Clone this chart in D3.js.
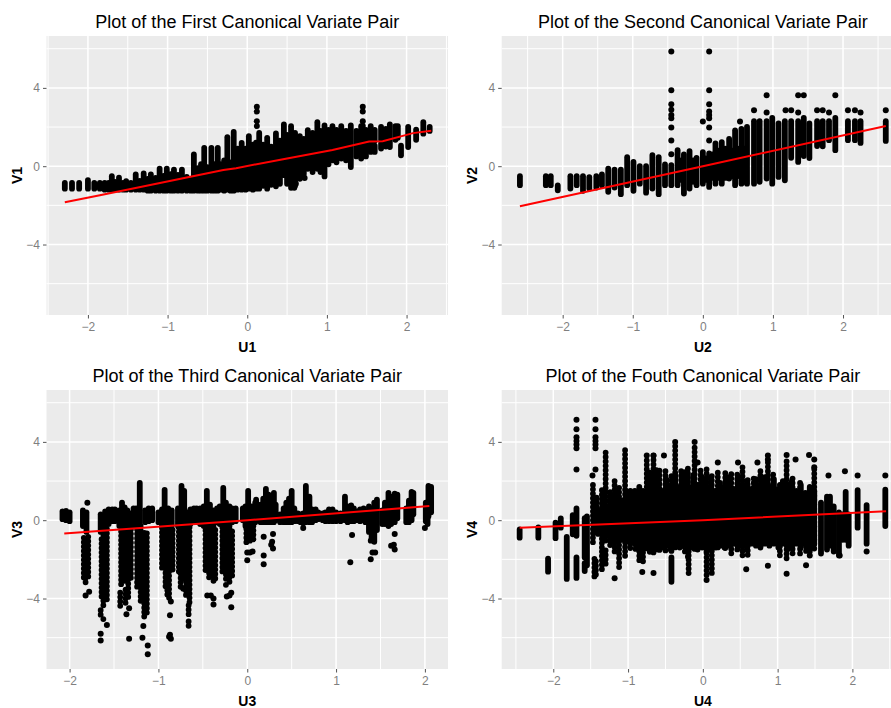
<!DOCTYPE html>
<html>
<head>
<meta charset="utf-8">
<title>Canonical Variate Pairs</title>
<script src="https://cdn.jsdelivr.net/npm/d3@7"></script>
<style>
    html, body { margin: 0; padding: 0; background: #fff; overflow: hidden; }
    svg { display: block; }
    text { font-family: "Liberation Sans", Arial, sans-serif; }
</style>
</head>
<body>
<div id="chart"></div>
<script>
//==================== data ====================//
// stacked points are kept as columns: [u, top v, bottom v]
// strips = tight columns, beads = looser columns where single points still show
const strips1 = [
    [-2.29,-.85,-1.15],[-2.2,-.85,-1.15],[-2.11,-.85,-1.15],[-2,-.71,-1.15],[-1.92,-.85,-1.15],[-1.85,-.85,-1.15],
    [-1.79,-.85,-1.2],[-1.74,-.85,-1.2],[-1.7,-.51,-1.2],[-1.66,-.8,-1.2],[-1.61,-.59,-1.2],[-1.56,-.85,-1.2],
    [-1.52,-.76,-1.2],[-1.46,-.85,-1.2],[-1.4,-.42,-1.2],[-1.35,-.75,-1.2],[-1.3,-.37,-1.2],[-1.25,-.65,-1.25],
    [-1.21,-.42,-1.25],[-1.15,-.6,-1.25],[-1.1,-.13,-1.25],[-1.05,-.5,-1.25],[-1.01,-.13,-1.25],[-.96,-.4,-1.25],
    [-.92,-.17,-1.25],[-.87,-.45,-1.25],[-.82,-.17,-1.25],[-.76,-.55,-1.25],[-.71,-.7,-1.25],[-.67,.6,-1.25],
    [-.62,-.1,-1.25],[-.58,.1,-1.25],[-.54,.94,-1.25],[-.5,-.05,-1.25],[-.45,.94,-1.25],[-.41,.1,-1.25],
    [-.37,.94,-1.25],[-.33,.1,-1.2],[-.29,.3,-1.25],[-.25,1.48,-1.2],[-.21,.2,-1.25],[-.17,1.75,-1.25],
    [-.12,.9,-1.2],[-.07,1.19,-1.2],[-.02,.9,-1.2],[.02,1.53,-1.15],[.07,1.1,-1.2],[.11,1.2,-1.15],
    [.15,1.7,-1.15],[.2,1.1,-1],[.25,1.45,-1.15],[.3,1,-.95],[.36,1.67,-1.03],[.41,1.3,-.9],
    [.46,2.13,-.46],[.5,1.6,-.9],[.55,2.04,-1.1],[.6,1.7,-1],[.66,1.53,-.64],[.71,1.4,-.4],
    [.76,1.84,-.13],[.82,1.7,-.3],[.88,2.25,-.13],[.92,1.8,-.3],[.97,2.08,-.52],[1.02,1.85,.1],
    [1.07,2.04,.3],[1.12,1.85,.2],[1.18,2.04,.39],[1.24,1.8,.3],[1.3,2.08,-.04],[1.37,1.8,.5],
    [1.43,2.04,.39],[1.49,1.85,.5],[1.55,2.04,1.3],[1.55,1.1,.73],[1.6,1.85,1.3],[1.6,1.05,.73],
    [1.68,2.01,1.35],[1.68,1.15,.9],[1.74,1.9,1],[1.79,2.13,.98],[1.86,2.04,1.35],[1.89,2.04,1.45],
    [1.93,1.05,.56],[2.02,2.01,.98],[2.12,1.87,1.35],[2.21,2.25,1.66],[2.29,2.01,1.8]
];
const beads1 = [];
const dots1 = [[.12,3.04],[.12,2.79],[.12,2.3],[.12,2.05],[1.45,3.04],[1.45,2.79],[1.45,2.3],[1.45,2.05],[.59,-1.1],[.61,-.9],[.72,-.6]];
const fitU1 = [-2.29,-1.85,-1.31,-.76,-.3,-.14,.45,1.07,1.53,1.7,2.08,2.31];
const fitV1 = [-1.84,-1.48,-1.04,-.58,-.19,-.1,.36,.83,1.26,1.28,1.69,1.81];

const strips2 = [
    [-2.61,-.51,-.97],[-2.24,-.51,-.97],[-2.17,-.51,-.97],[-2.07,-.98,-1.23],[-1.89,-.51,-1.14],[-1.8,-.51,-.97],
    [-1.71,-.51,-1.26],[-1.62,-.56,-1.14],[-1.52,-.51,-1.09],[-1.44,-.42,-.97],[-1.35,-.12,-1.31],[-1.26,-.17,-1.09],
    [-1.17,-.17,-1.43],[-1.08,.46,-.97],[-.99,.22,-1.26],[-.9,0,-.89],[-.81,0,-1.35],[-.72,.57,-1.14],
    [-.63,.46,-1.43],[-.54,.09,-.97],[-.45,.05,-.97],[-.36,.82,-.97],[-.27,.6,-1.4],[-.19,.77,-1.14],
    [-.09,.43,-.97],[0,.72,-.89],[.09,.65,-1.06],[.18,1.16,-.89],[.27,1.23,-.89],[.375,1.4,-.63],
    [.46,1.83,-.97],[.55,1.91,-.89],[.63,2.01,-.89],[.73,2.3,-.89],[.81,2.3,-.8],[.91,2.3,-.63],
    [.99,2.47,-.89],[1.08,2.18,-.55],[1.17,2.3,-.72],[1.26,2.3,.43],[1.36,2.3,.22],[1.44,2.47,.52],
    [1.52,2.18,.42],[1.63,2.3,1.03],[1.71,2.3,1.02],[1.8,2.3,1.33],[1.89,2.47,.82],[2.07,2.3,1.33],
    [2.17,2.3,1.33],[2.25,2.3,1.19],[2.61,2.3,1.29],
    [-.31,.3,-.7],[-.14,.3,-.8],[.04,.4,-.7],[.14,.6,-.6],[.22,.8,-.6],[.32,.9,-.6],[.42,.8,-.5],[.5,.9,-.5],[.59,.9,-.8]
];
const beads2 = [];
const dots2 = [
    [-.45,5.86],[-.45,3.88],[-.45,3.17],[-.45,2.88],[-.45,2.62],[-.45,2.45],[-.45,1.98],[-.45,1.31],[-.45,.61],
    [.09,5.86],[.09,3.88],[.09,3.17],[.09,2.8],[.09,2.62],[.09,2.45],[.09,1.98],[.09,1.31],[0,2.28],[.53,2.28],
    [.91,3.63],[1.36,3.63],[1.44,3.63],[1.89,3.63],[.73,2.86],[.91,2.74],[1.18,2.86],[1.26,2.86],[1.36,2.74],
    [1.63,2.86],[1.71,2.86],[1.8,2.74],[2.07,2.86],[2.17,2.86],[2.25,2.74],[2.61,2.86]
];
const fitU2 = [-2.61,0,2.61];
const fitV2 = [-2.05,0,2.05];

const strips3 = [
    [-2.08,.45,.05],[-2.04,.48,0],[-2,.4,-.05],
    [-1.85,.5,-.3],[-1.81,.4,-.6],
    [-1.65,.3,-.6],[-1.56,.55,-.2],[-1.52,.55,-.05],[-1.49,.55,-.05],[-1.6,.45,-.4],
    [-1.44,.5,-.3],[-1.41,.9,-.3],[-1.38,.65,-.3],[-1.35,.5,-.3],[-1.32,.35,-.3],
    [-1.21,1.9,-.3],[-1.25,.6,-.3],[-1.28,.6,-.3],[-1.15,.5,-.1],[-1.11,.6,-.05],[-1.07,.6,0],
    [-1,.4,-.1],[-.96,.55,-.3],[-.93,1.55,-.3],[-.89,.6,-.3],[-.85,.5,-.3],
    [-.78,.6,-.3],[-.74,1.75,-.3],[-.71,1.5,-.3],[-.67,.4,-.3],[-.64,.55,-.2],[-.6,.6,-.1],[-.57,.6,-.1],
    [-.53,.6,-.2],[-.49,.7,-.3],[-.455,1.5,-.3],[-.42,.8,-.3],[-.38,.5,-.3],[-.34,.6,-.1],
    [-.31,.7,-.2],[-.27,1.65,-.3],[-.24,.9,-.3],[-.2,.7,-.3],[-.17,.6,-.1],[-.13,.6,-.05],
    [-.05,.6,0],[-.02,.7,-.3],[.01,1.5,-.3],[.05,.7,-.3],[.09,.9,-.1],[.1,1.05,0],
    [.15,.8,-.1],[.18,1.1,-.1],[.21,1.6,-.1],[.24,1.3,-.1],[.27,1.1,-.1],[.3,1.4,-.1],[.32,.8,0],
    [.37,.3,-.1],[.41,.6,-.1],[.44,.9,-.1],[.47,1.1,-.1],[.5,1.5,-.1],[.53,.6,-.05],[.57,.35,-.05],
    [.6,.3,-.1],[.63,.35,-.15],[.66,1.75,-.1],[.7,1.2,-.1],[.73,.55,-.1],[.77,.55,0],[.8,.4,.05],
    [.85,.35,0],[.88,.4,-.05],[.92,.55,-.05],[.96,.55,-.05],[1,.4,-.05],[1.05,.35,-.05],
    [1.1,1.2,0],[1.13,.7,-.1],[1.17,.75,-.05],[1.2,.6,-.05],[1.24,.45,0],[1.27,.55,-.05],[1.31,.6,0],
    [1.33,.4,-.1],[1.37,.7,-.6],[1.4,.6,-1],[1.43,.9,-1.1],[1.46,1.05,-.5],
    [1.52,.5,-.2],[1.55,.9,-.2],[1.59,1.4,-.3],[1.62,1.2,-.2],[1.66,1.35,-.1],[1.69,1.3,.1],
    [1.79,.6,-.1],[1.82,1,-.1],[1.85,1.45,0],[1.87,1.4,.3],
    [2.01,.9,-.05],[2.04,1.75,.2],[2.07,1.7,.4],[2.03,.5,-.2]
];
const beads3 = [
    [-1.84,-.9,-3.1],[-1.79,-.7,-2.9],[-1.82,-1.3,-3.3],
    [-1.62,-.3,-4.4],[-1.58,-.3,-4.1],[-1.64,-.9,-4],[-1.65,-4.6,-5],[-1.62,-4.9,-5.2],
    [-1.42,-.5,-3.4],[-1.38,-.4,-3.3],[-1.34,-.4,-4],[-1.31,-.4,-3.1],[-1.43,-3.7,-4.5],[-1.37,-3.4,-4.4],
    [-1.24,-.4,-3.6],[-1.2,-.3,-4.2],[-1.16,-.5,-5],[-1.13,-.6,-4.9],
    [-.96,-.4,-2.6],[-.92,-.3,-3.5],[-.88,-.3,-4],[-.84,-.5,-2.7],[-.9,-3.2,-3.9],
    [-.77,-.3,-2.7],[-.73,-.3,-3],[-.69,-.3,-4],[-.65,-.3,-4.3],[-.75,-2.5,-3.4],[-.66,-4.2,-4.9],[-.66,-5.1,-5.4],
    [-.47,-.3,-2.7],[-.43,-.3,-3],[-.39,-.3,-2.9],[-.36,-.5,-3],[-.38,-2.5,-3.3],
    [-.28,-.3,-2.8],[-.24,-.3,-3.2],[-.2,-.3,-3.3],[-.17,-.5,-3],[-.24,-3.3,-3.5],
    [-.01,-.3,-1.2],[.03,-.3,-1.1],[.07,-.3,-1.05],[1.39,-.9,-1.05]
];
const dots3 = [
    [-1.8,.89],[-1.82,-3.85],[-1.78,-3.65],[-1.58,-5.35],[-1.65,-5.8],[-1.65,-6.15],[-1.33,-4.5],[-1.36,-4.8],[-1.33,-6.05],
    [-1.17,-5.4],[-1.18,-6],[-1.12,-6.4],[-1.12,-6.85],[-.86,-4.15],[-.87,-4.85],[-.87,-5.85],[-.86,-6.05],[-.88,-5.95],
    [-.72,-3.5],[-.45,-3.85],[-.41,-3.85],[-.38,-4],[-.38,-4.3],[-.23,-3.9],[-.2,-3.85],[-.18,-3.7],[-.18,-4.45],
    [0,-1.65],[.03,-1.65],[.06,-1.6],[0,-2.05],[.185,-.85],[.185,-1.8],[.185,-2.25],[.29,-.7],[.28,-1.1],[.27,-1.25],[.29,-1.45],
    [.63,-.4],[1.18,-.75],[1.16,-2.15],[1.39,-2],[1.41,-1.65],[1.44,-1.65],[1.66,-.7],[1.62,-1.3],[1.65,-1.25],[1.66,-1.5],[2,-.4]
];
const fitU3 = [-2.06,0,2.05];
const fitV3 = [-.68,0,.72];

const strips4 = [
    [-2.45,-.47,-.89],[-2.2,-.37,-.89],[-2.07,-1.96,-2.63],[-1.97,-.12,-.92],[-1.9,.09,-.38],[-1.82,-.85,-3],[-1.74,.26,-.72],
    [-1.69,.6,-.8],[-1.69,-1.9,-2.95],[-1.58,.1,-1.9],[-1.55,.2,-2.3],[-1.58,-2.2,-2.6],[-.42,-1.9,-3.15],
    // dense core of the cloud
    [-1.4,.5,-.7],[-1.33,.9,-.8],[-1.27,.7,-.8],[-1.21,1.1,-.9],[-1.15,1.4,-1],[-1.09,1,-1],[-1.03,1.5,-1.1],[-.97,1.2,-1.1],
    [-.91,1.5,-1.2],[-.85,1.7,-1.1],[-.79,1.3,-1.3],[-.73,2,-1.2],[-.67,1.6,-1.3],[-.61,2.2,-1.2],[-.55,1.5,-1.4],[-.49,2.1,-1.3],
    [-.43,1.7,-1.5],[-.37,2.3,-1.3],[-.31,1.7,-1.4],[-.25,2.2,-1.3],[-.19,1.7,-1.6],[-.13,2.3,-1.4],[-.07,1.8,-1.5],[-.01,2.2,-1.4],
    [.05,1.6,-1.6],[.11,2.2,-1.5],[.17,1.5,-1.4],[.23,1.9,-1.3],[.29,1.7,-1.4],[.35,2.2,-1.3],[.41,1.6,-1.2],[.47,2.2,-1.4],
    [.53,1.8,-1.3],[.59,2,-1.5],[.65,1.6,-1.2],[.71,2.1,-1.3],[.77,1.7,-1.4],[.83,2.2,-1.2],[.89,1.7,-1.3],[.95,2.1,-1.2],
    [1.01,1.6,-1.4],[1.07,2,-1.2],[1.13,1.7,-1.5],[1.19,2,-1.3],[1.25,1.5,-1.2],[1.31,1.8,-1.4],[1.37,1.4,-1.2],[1.43,1.7,-1.4],[1.49,1.5,-1.2],
    [1.58,.9,-1.7],[1.66,1.2,-1.5],[1.7,1.2,-1.3],[1.75,.7,-1.6],[1.82,.4,-1.8],[1.87,.3,-1],[1.91,1.45,-1],[1.95,.3,-1.3],
    [2.07,1.54,-.38],[2.19,.77,-1.2],[2.44,1.56,-.3]
];
const beads4 = [
    [-1.47,1.8,-1.3],[-1.42,1.3,-.8],[-1.45,-1.9,-3],[-1.43,-2.1,-2.9],[-1.3,3.6,-1.2],[-1.35,1.6,-1.5],[-1.35,-1.6,-2.7],
    [-1.3,-1.4,-2.4],[-1.24,1.5,-1.3],[-1.18,2,-1.6],[-1.12,1.8,-2.4],[-1.04,3.65,-2],[-.97,1.5,-1.6],[-.9,1.6,-1.6],
    [-.85,.5,-2.2],[-.8,1.5,-2.3],[-.75,3.2,-1.5],[-.71,2.5,-1.7],[-.66,3.3,-1.8],[-.62,2.7,-1.6],[-.58,2.6,-1.7],[-.5,2.5,-1.7],[-.42,2.4,-1.7],
    [-.37,3.85,-1.6],[-.29,2.5,-1.5],[-.24,2.6,-1.7],[-.2,2.7,-2],[-.19,-1.8,-2.8],[-.11,3.85,-1.6],[-.03,2.6,-1.4],[.05,2.6,-2.9],
    [.12,2.4,-2.8],[.2,2.5,-1.5],[.3,2.4,-1.5],[.38,2.5,-1.7],[.46,2.4,-1.6],[.53,2.7,-1.9],[.6,2.2,-1.9],[.68,2.2,-1.1],
    [.77,2.5,-1.5],[.87,3.1,-1.3],[.94,2.4,-1.1],[1.03,1.8,-1.8],[1.12,3.15,-2],[1.2,2.2,-1.9],[1.3,1.9,-1.7],
    [1.38,1.5,-1.6],[1.43,1.4,-1.8],[1.49,2.6,-1.5]
];
const dots4 = [
    [-1.69,5.13],[-1.69,4.65],[-1.69,4.24],[-1.69,4.04],[-1.69,3.87],[-1.69,3.68],[-1.69,2.59],
    [-1.436,5.13],[-1.436,4.65],[-1.436,4.24],[-1.436,4.04],[-1.436,3.87],[-1.436,3.68],[-1.436,2.59],[-1.476,2.28],
    [-1.18,-2.97],[-.37,4],[-.11,4],[-.07,2.95],[-.75,3.3],[-.66,3.3],[-.52,3.3],[.2,2.95],[.47,2.95],[.73,2.95],
    [.87,3.3],[.87,3.1],[1.12,3.33],[1.24,3.1],[1.42,3.33],[1.49,3.1],[1.49,2.7],[1.68,2.28],[1.9,2.5],[2.07,2.28],[2.44,2.28],
    [2.19,-1.6],[1.83,-1.8],[1.38,-2.3],[1.12,-2.73],[.87,-2.33],[.58,-2.5],[1.43,-1.8],[-.81,-2.65],[-.66,-2.7],[.05,-3.05]
];
const fitU4 = [-2.45,0,2.45];
const fitV4 = [-.39,0,.46];

const yTicks = [-4, 0, 4];
const yMinor = [-6, -2, 2, 6];
const xTicks = [-2, -1, 0, 1, 2];
const xMinorWide = [-2.5, -1.5, -.5, .5, 1.5, 2.5];
const xMinorNarrow = [-1.5, -.5, .5, 1.5];

const titles = [
    "Plot of the First Canonical Variate Pair",
    "Plot of the Second Canonical Variate Pair",
    "Plot of the Third Canonical Variate Pair",
    "Plot of the Fouth Canonical Variate Pair"
];

// ==================== layout of the four panels ====================//
const width = 891;
const height = 708;

const panels = [
    { left: 46.5, right: 448, top: 36, xMax: 2.52, xMinor: xMinorWide, strips: strips1, beads: beads1, dots: dots1, fitU: fitU1, fitV: fitV1, xName: "U1", yName: "V1", yNameX: 17 },
    { left: 501.7, right: 904, top: 36, xMax: 2.87, xMinor: xMinorWide, strips: strips2, beads: beads2, dots: dots2, fitU: fitU2, fitV: fitV2, xName: "U2", yName: "V2", yNameX: 472 },
    { left: 46.5, right: 448, top: 390, xMax: 2.26, xMinor: xMinorNarrow, strips: strips3, beads: beads3, dots: dots3, fitU: fitU3, fitV: fitV3, xName: "U3", yName: "V3", yNameX: 17 },
    { left: 501.7, right: 904, top: 390, xMax: 2.69, xMinor: xMinorWide, strips: strips4, beads: beads4, dots: dots4, fitU: fitU4, fitV: fitV4, xName: "U4", yName: "V4", yNameX: 472 }
];

const svg = d3.select("#chart")
    .append("svg")
    .attr("width", width)
    .attr("height", height);

panels.forEach((p, i) => drawPanel(p, titles[i]));

// ==================== one panel ====================//
function drawPanel(p, title) {
    const bottom = p.top + 279;

    const x = d3.scaleLinear().domain([-p.xMax, p.xMax]).range([p.left, p.right]);
    const y = d3.scaleLinear().domain([-7.6, 6.65]).range([bottom, p.top]);

    const g = svg.append("g");

    g.append("rect")
        .attr("x", p.left)
        .attr("y", p.top)
        .attr("width", p.right - p.left)
        .attr("height", bottom - p.top)
        .attr("fill", "#ebebeb");

    // grille : mineure puis majeure
    const grid = (vals, isX, w) => g.append("g")
        .selectAll("line")
        .data(vals)
        .enter()
        .append("line")
        .attr("x1", d => isX ? x(d) : p.left)
        .attr("x2", d => isX ? x(d) : p.right)
        .attr("y1", d => isX ? p.top : y(d))
        .attr("y2", d => isX ? bottom : y(d))
        .attr("stroke", "#fff")
        .attr("stroke-width", w);

    grid(yMinor, false, 1);
    grid(p.xMinor, true, 1);
    grid(yTicks, false, 1.5);
    grid(xTicks, true, 1.5);

    // colonnes de points empiles
    g.append("g")
        .selectAll("line")
        .data(p.strips)
        .enter()
        .append("line")
        .attr("x1", d => x(d[0]))
        .attr("x2", d => x(d[0]))
        .attr("y1", d => y(d[1]))
        .attr("y2", d => y(d[2]))
        .attr("stroke", "#000")
        .attr("stroke-width", 5.8)
        .attr("stroke-linecap", "round");

    // colonnes lâches : un point tous les 4px, décalés d'une colonne à l'autre
    g.append("g")
        .selectAll("line")
        .data(p.beads)
        .enter()
        .append("line")
        .attr("x1", d => x(d[0]))
        .attr("x2", d => x(d[0]))
        .attr("y1", d => y(d[1]))
        .attr("y2", d => y(d[2]))
        .attr("stroke", "#000")
        .attr("stroke-width", 5.8)
        .attr("stroke-linecap", "round")
        .attr("stroke-dasharray", "0 4.4")
        .attr("stroke-dashoffset", (d, i) => i % 3 * 1.5);

    g.append("g")
        .selectAll("circle")
        .data(p.dots)
        .enter()
        .append("circle")
        .attr("cx", d => x(d[0]))
        .attr("cy", d => y(d[1]))
        .attr("r", 3)
        .attr("fill", "#000");

    // fit line
    const line = d3.line().x(d => x(d[0])).y(d => y(d[1]));
    g.append("path")
        .attr("d", line(d3.zip(p.fitU, p.fitV)))
        .attr("fill", "none")
        .attr("stroke", "#ff0000")
        .attr("stroke-width", 2);

    // axes
    const xAxis = g.append("g")
        .attr("transform", `translate(0,${bottom})`)
        .call(d3.axisBottom(x).tickValues(xTicks).tickFormat(d3.format("d")).tickSize(3.5).tickPadding(4));
    const yAxis = g.append("g")
        .attr("transform", `translate(${p.left},0)`)
        .call(d3.axisLeft(y).tickValues(yTicks).tickFormat(d3.format("d")).tickSize(3.5).tickPadding(3));

    [xAxis, yAxis].forEach(a => {
        a.select(".domain").remove();
        a.selectAll("line").attr("stroke", "#555");
        a.selectAll("text")
            .attr("fill", "#7f7f7f")
            .style("font-size", "12px")
            .style("font-family", '"Liberation Sans", Arial, sans-serif');
    });

    // titres
    g.append("text")
        .attr("x", (p.left + p.right) / 2)
        .attr("y", p.top - 8.5)
        .attr("text-anchor", "middle")
        .attr("fill", "#000")
        .style("font-size", "18px")
        .text(title);

    g.append("text")
        .attr("x", (p.left + p.right) / 2)
        .attr("y", bottom + 37)
        .attr("text-anchor", "middle")
        .attr("fill", "#000")
        .style("font-size", "14px")
        .style("font-weight", "bold")
        .text(p.xName);

    g.append("text")
        .attr("transform", `translate(${p.yNameX},${(p.top + bottom) / 2}) rotate(-90)`)
        .attr("text-anchor", "middle")
        .attr("dy", "0.36em")
        .attr("fill", "#000")
        .style("font-size", "14px")
        .style("font-weight", "bold")
        .text(p.yName);
}
</script>
</body>
</html>
